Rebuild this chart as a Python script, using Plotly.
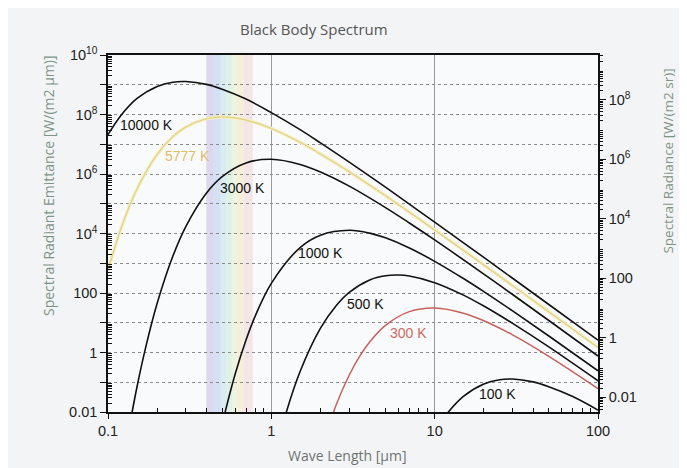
import numpy as np
import plotly.graph_objects as go

# wavelengths (µm) and spectral radiant emittance (W/(m2 µm))
wl_10000 = [0.1, 0.12, 0.15, 0.2, 0.25, 0.3, 0.4, 0.5, 0.7, 1, 1.5, 2, 3, 5, 7, 10, 20, 30, 50, 100]
em_10000 = [2.1e7, 9.3e7, 3.4e8, 8.8e8, 1.22e9, 1.28e9, 1.03e9, 7.1e8, 3.3e8, 1.16e8,
            3.1e7, 1.11e7, 2.5e6, 3.6e5, 9.7e4, 2.4e4, 1570, 313, 41, 2.6]

wl_5777 = [0.1, 0.12, 0.15, 0.2, 0.25, 0.3, 0.4, 0.5, 0.7, 1, 1.5, 2, 3, 5, 7, 10, 20, 30, 50, 100]
em_5777 = [570, 1.46e4, 3.0e5, 4.6e6, 1.81e7, 3.8e7, 7.2e7, 8.3e7, 6.5e7, 3.4e7,
           1.16e7, 4.7e6, 1.19e6, 1.85e5, 5.2e4, 1.32e4, 880, 177, 23.4, 1.48]

wl_3000 = [0.13, 0.15, 0.17, 0.2, 0.25, 0.3, 0.4, 0.5, 0.7, 1, 1.5, 2, 3, 5, 7, 10, 20, 30, 50, 100]
em_3000 = [0.00096, 0.064, 1.46, 45, 1780, 1.75e4, 2.27e5, 8.2e5, 2.36e6, 3.12e6,
           2.10e6, 1.17e6, 3.9e5, 7.4e4, 2.26e4, 6100, 432, 89, 11.9, 0.76]

wl_1000 = [0.45, 0.5, 0.6, 0.7, 0.8, 1, 1.5, 2, 3, 4, 5, 7, 10, 15, 20, 30, 50, 100]
em_1000 = [2.6e-4, 0.0038, 0.185, 2.64, 17.7, 211, 3370, 8800, 1.28e4, 1.03e4,
           7130, 3270, 1160, 306, 111, 25.0, 3.59, 0.242]

wl_500 = [1, 1.2, 1.5, 2, 2.5, 3, 4, 5, 6, 7, 10, 15, 20, 30, 50, 100]
em_500 = [1.19e-4, 0.0058, 0.23, 6.6, 38, 105, 275, 380, 401, 372, 223, 85, 36.4, 9.5, 1.54, 0.112]

wl_300 = [2, 2.5, 3, 3.5, 4, 5, 7, 10, 15, 20, 30, 50, 100]
em_300 = [4.5e-4, 0.0178, 0.175, 0.80, 2.27, 8.2, 23.6, 31.2, 21.0, 11.7, 3.9, 0.74, 0.061]

wl_100 = [10, 12, 15, 20, 25, 30, 40, 50, 70, 100]
em_100 = [0.0021, 0.0093, 0.0337, 0.088, 0.122, 0.128, 0.103, 0.071, 0.033, 0.0116]

# visible band, violet -> red
visible_edges = [0.40, 0.44, 0.49, 0.53, 0.58, 0.62, 0.68, 0.77]
visible_colors = ["#c6bce6", "#b6cbee", "#bfe0ee", "#cde9d6", "#e6efc6", "#f3e4c4", "#f0d4d6"]

left_ticks = [1e-2, 1e-1, 1, 10, 100, 1e3, 1e4, 1e5, 1e6, 1e7, 1e8, 1e9, 1e10]
left_text = ["0.01", " ", "1", " ", "100", " ", "10<sup>4</sup>", " ", "10<sup>6</sup>", " ",
             "10<sup>8</sup>", " ", "10<sup>10</sup>"]
right_ticks = [1e-2, 1, 100, 1e4, 1e6, 1e8]
right_text = ["0.01", "1", "100", "10<sup>4</sup>", "10<sup>6</sup>", "10<sup>8</sup>"]
x_ticks = [0.1, 1, 10, 100]
x_text = ["0.1", "1", "10", "100"]

# 2..9 minor positions per decade
def minor_vals(lo, hi):
    return [m * 10.0 ** k for k in range(lo, hi) for m in range(2, 10)]

TICK_FONT = dict(family="Liberation Sans, Arial", size=14.5, color="#222")
TITLE_FONT = dict(family="Open Sans", size=14, color="#7d9486")

fig = go.Figure()

# visible spectrum strip
for i, col in enumerate(visible_colors):
    fig.add_shape(type="rect", xref="x", yref="paper",
                  x0=visible_edges[i], x1=visible_edges[i + 1], y0=0, y1=1,
                  fillcolor=col, opacity=0.55, line_width=0, layer="below")

curves = [
    (wl_10000, em_10000, "#111", 1.6),
    (wl_3000, em_3000, "#111", 1.6),
    (wl_1000, em_1000, "#111", 1.6),
    (wl_500, em_500, "#111", 1.6),
    (wl_300, em_300, "#c8605a", 1.5),
    (wl_100, em_100, "#111", 1.6),
]

# sun: pale band with a thin core
fig.add_trace(go.Scatter(x=wl_5777, y=em_5777, mode="lines", line_shape="spline",
                         line=dict(color="#f4eecb", width=3.5), hoverinfo="skip"))
fig.add_trace(go.Scatter(x=wl_5777, y=em_5777, mode="lines", line_shape="spline",
                         line=dict(color="#e2d27a", width=1.2), hoverinfo="skip"))
for x, y, col, w in curves:
    fig.add_trace(go.Scatter(x=x, y=y, mode="lines", line_shape="spline",
                             line=dict(color=col, width=w), hoverinfo="skip"))
# empty trace so the radiance axis is drawn
fig.add_trace(go.Scatter(x=[], y=[], yaxis="y2", hoverinfo="skip"))

labels = [
    ("10000 K", 0.173, 10 ** 7.65, "#111"),
    ("5777 K", 0.305, 10 ** 6.61, "#e0bc64"),
    ("3000 K", 0.662, 10 ** 5.53, "#111"),
    ("1000 K", 1.99, 10 ** 3.34, "#111"),
    ("500 K", 3.75, 10 ** 1.63, "#111"),
    ("300 K", 6.87, 10 ** 0.656, "#cf6a60"),
    ("100 K", 24.4, 10 ** -1.395, "#111"),
]
for text, lx, ly, col in labels:
    fig.add_annotation(x=np.log10(lx), y=np.log10(ly), xref="x", yref="y", text=text,
                       showarrow=False, font=dict(family="Liberation Sans, Arial", size=14, color=col))

# axis titles
fig.add_annotation(x=-0.1224, y=0.633, xref="paper", yref="paper", textangle=-90,
                   xanchor="center", yanchor="middle",
                   text="Spectral Radiant Emittance [W/(m2 µm)]", showarrow=False, font=TITLE_FONT)
fig.add_annotation(x=1.142, y=0.703, xref="paper", yref="paper", textangle=-90,
                   xanchor="center", yanchor="middle",
                   text="Spectral Radiance [W/(m2 sr)]", showarrow=False,
                   font=dict(family="Open Sans", size=13.5, color="#7d9486"))
fig.add_annotation(x=0.488, y=-0.123, xref="paper", yref="paper",
                   xanchor="center", yanchor="middle",
                   text="Wave Length [µm]", showarrow=False,
                   font=dict(family="Open Sans", size=14, color="#6f7473"))

# the page body adds 8px around the figure, so it is sized to fit inside that
fig.update_layout(
    width=671, height=460,
    margin=dict(l=100, r=81, t=47, b=56),
    paper_bgcolor="#f3f4f6",
    plot_bgcolor="#f9fafb",
    showlegend=False,
    title=dict(text="Black Body Spectrum", x=0.42, xref="paper", xanchor="center",
               y=1 - 22 / 460, yanchor="middle",
               font=dict(family="Open Sans", size=15, color="#555")),
    xaxis=dict(type="log", range=[-1, 2], tickvals=x_ticks, ticktext=x_text,
               showline=True, linecolor="#111", linewidth=1.5, mirror=True,
               ticks="outside", ticklen=5, tickcolor="#111", tickfont=TICK_FONT,
               showgrid=True, gridcolor="#9a9a9a", gridwidth=1, zeroline=False,
               minor=dict(ticks="inside", ticklen=4, tickcolor="#111",
                          tickmode="array", tickvals=minor_vals(-1, 2), showgrid=False)),
    yaxis=dict(type="log", range=[-2, 10], tickvals=left_ticks, ticktext=left_text,
               showline=True, linecolor="#111", linewidth=1.5,
               ticks="outside", ticklen=6, tickcolor="#111", tickfont=TICK_FONT,
               showgrid=True, gridcolor="#8a8a8a", gridwidth=1, griddash="dot", zeroline=False,
               minor=dict(ticks="inside", ticklen=4, tickcolor="#111",
                          tickmode="array", tickvals=minor_vals(-2, 10), showgrid=False)),
    yaxis2=dict(type="log", overlaying="y", side="right", anchor="x",
                range=[-2 - np.log10(np.pi), 10 - np.log10(np.pi)],
                tickvals=right_ticks, ticktext=right_text,
                showline=True, linecolor="#111", linewidth=1.5,
                ticks="outside", ticklen=6, tickcolor="#111", tickfont=TICK_FONT,
                showgrid=False, zeroline=False,
                minor=dict(ticks="outside", ticklen=3, tickcolor="#111",
                           tickmode="array", tickvals=minor_vals(-3, 10), showgrid=False)),
)

fig.write_html("out.html")
